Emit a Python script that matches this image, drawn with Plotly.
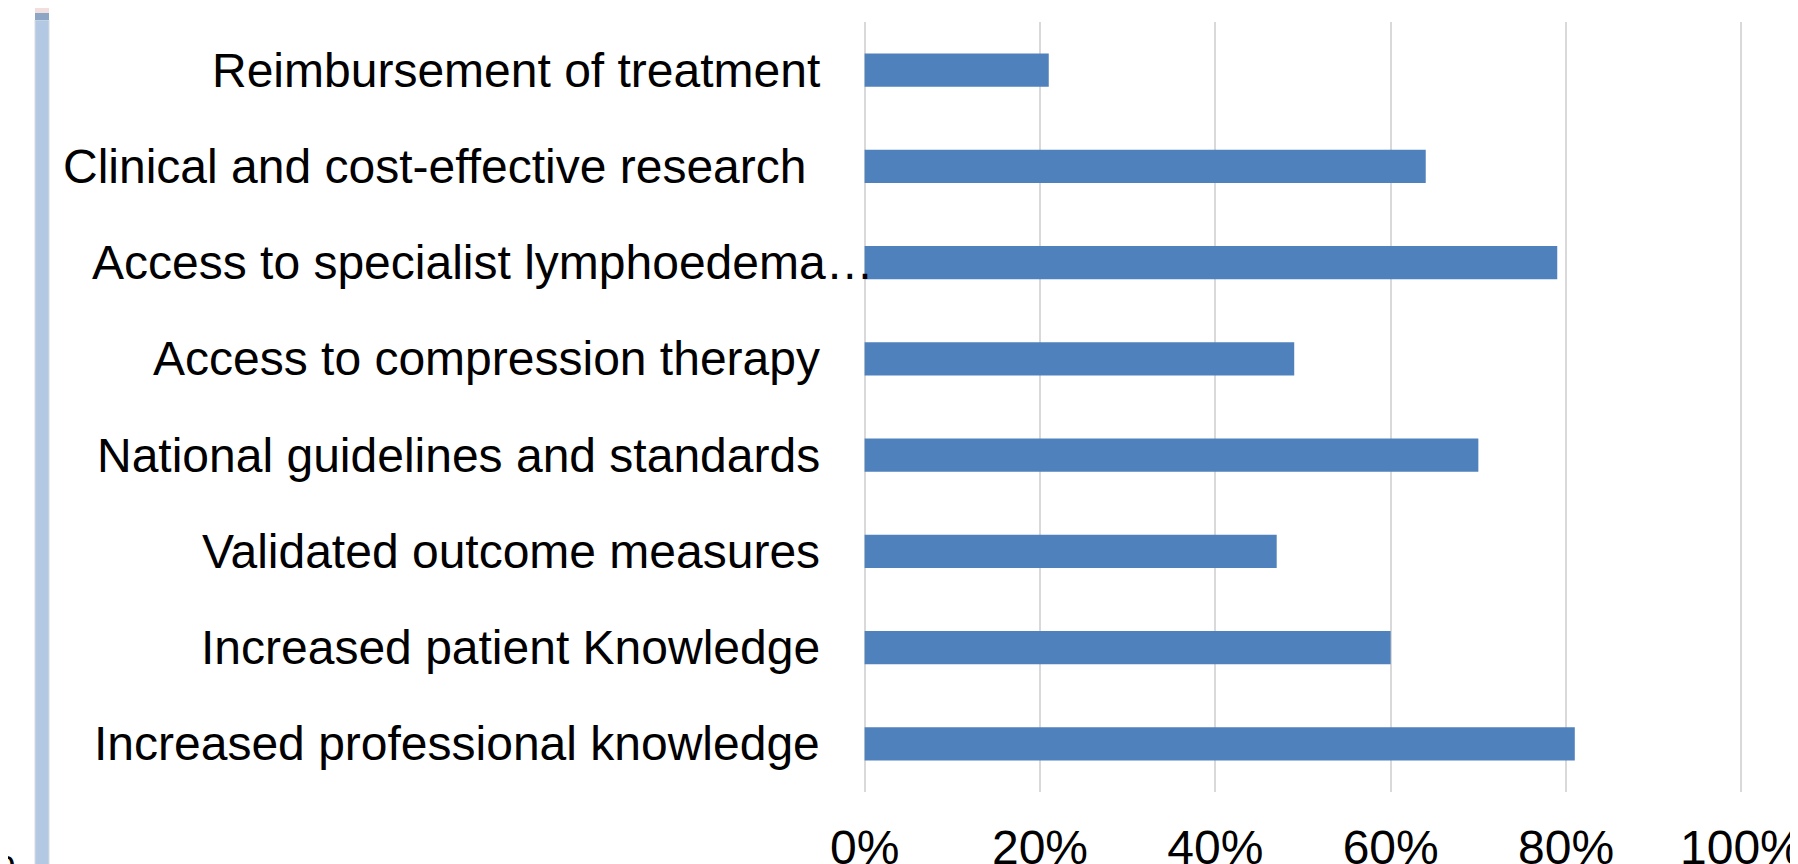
import plotly.graph_objects as go

# categories listed top to bottom, as shown
categories = [
    "Reimbursement of treatment",
    "Clinical and cost-effective research\u00a0",
    "Access to specialist lymphoedema\u2026",
    "Access to compression therapy",
    "National guidelines and standards",
    "Validated outcome measures",
    "Increased patient Knowledge",
    "Increased professional knowledge",
]
shares = [0.21, 0.64, 0.79, 0.49, 0.70, 0.47, 0.60, 0.81]
tick_vals = [0, 0.2, 0.4, 0.6, 0.8, 1.0]
tick_text = ["0%", "20%", "40%", "60%", "80%", "100%"]

# page is offset by the 8px body margin, so the figure is 8px smaller
OFF = 8
W, H = 1798 - OFF, 864 - OFF
PAD = 0.003
unit = 877  # px per 100%
L = round(865 - OFF - PAD * unit)
plot_w = round(unit * (1 + 2 * PAD))
R = W - L - plot_w
T, B = 22 - OFF, 72
plot_h = H - T - B


def px_to_paper(page_px):
    return (page_px - OFF - L) / plot_w


def py_to_paper(page_py):
    return 1 - (page_py - OFF - T) / plot_h


fig = go.Figure()
fig.add_trace(go.Bar(
    x=shares, y=categories, orientation="h",
    marker=dict(color="#4f81bd", line=dict(width=0)),
    hoverinfo="x+y",
))

# category labels as annotations (one of them overflows toward the axis)
annots = []
for cat in categories:
    if cat.endswith("\u2026"):
        annots.append(dict(x=px_to_paper(90), xref="paper", y=cat, yref="y",
                           text=cat, showarrow=False, xanchor="left",
                           font=dict(size=48, color="black")))
    else:
        annots.append(dict(x=px_to_paper(822), xref="paper", y=cat, yref="y",
                           text=cat, showarrow=False, xanchor="right",
                           font=dict(size=48, color="black")))
annots.append(dict(x=px_to_paper(18), xref="paper", y=py_to_paper(832), yref="paper",
                   text="%", showarrow=False, xanchor="right", yanchor="top",
                   font=dict(size=48, color="black")))

# the slim window-edge strip on the left
strip = dict(type="rect", xref="paper", yref="paper",
             x0=px_to_paper(35), x1=px_to_paper(49), layer="below")

fig.update_layout(
    width=W, height=H,
    margin=dict(l=L, r=R, t=T, b=B),
    paper_bgcolor="white", plot_bgcolor="white",
    font=dict(family="Liberation Sans, Arial, sans-serif", color="black"),
    bargap=0.655,
    showlegend=False,
    annotations=annots,
    shapes=[
        dict(strip, y0=py_to_paper(900), y1=py_to_paper(20),
             fillcolor="#b3c8e3", line=dict(width=1, color="#d6dbe2")),
        dict(strip, y0=py_to_paper(20), y1=py_to_paper(13),
             fillcolor="#8ea6c6", line=dict(width=0)),
        dict(strip, y0=py_to_paper(13), y1=py_to_paper(8),
             fillcolor="#f3dede", line=dict(width=0)),
    ],
)
fig.update_xaxes(
    range=[-PAD, 1 + PAD], tickvals=tick_vals, ticktext=tick_text,
    showgrid=True, gridcolor="#d9d9d9", gridwidth=2,
    zeroline=False, showline=False,
    ticks="outside", ticklen=13, tickcolor="rgba(0,0,0,0)",
    ticklabeloverflow="allow", automargin=False,
    tickfont=dict(size=48, color="black"),
)
fig.update_yaxes(
    autorange="reversed", showticklabels=False, showgrid=False,
    zeroline=False, showline=False, automargin=False,
)

fig.write_html("out.html")
